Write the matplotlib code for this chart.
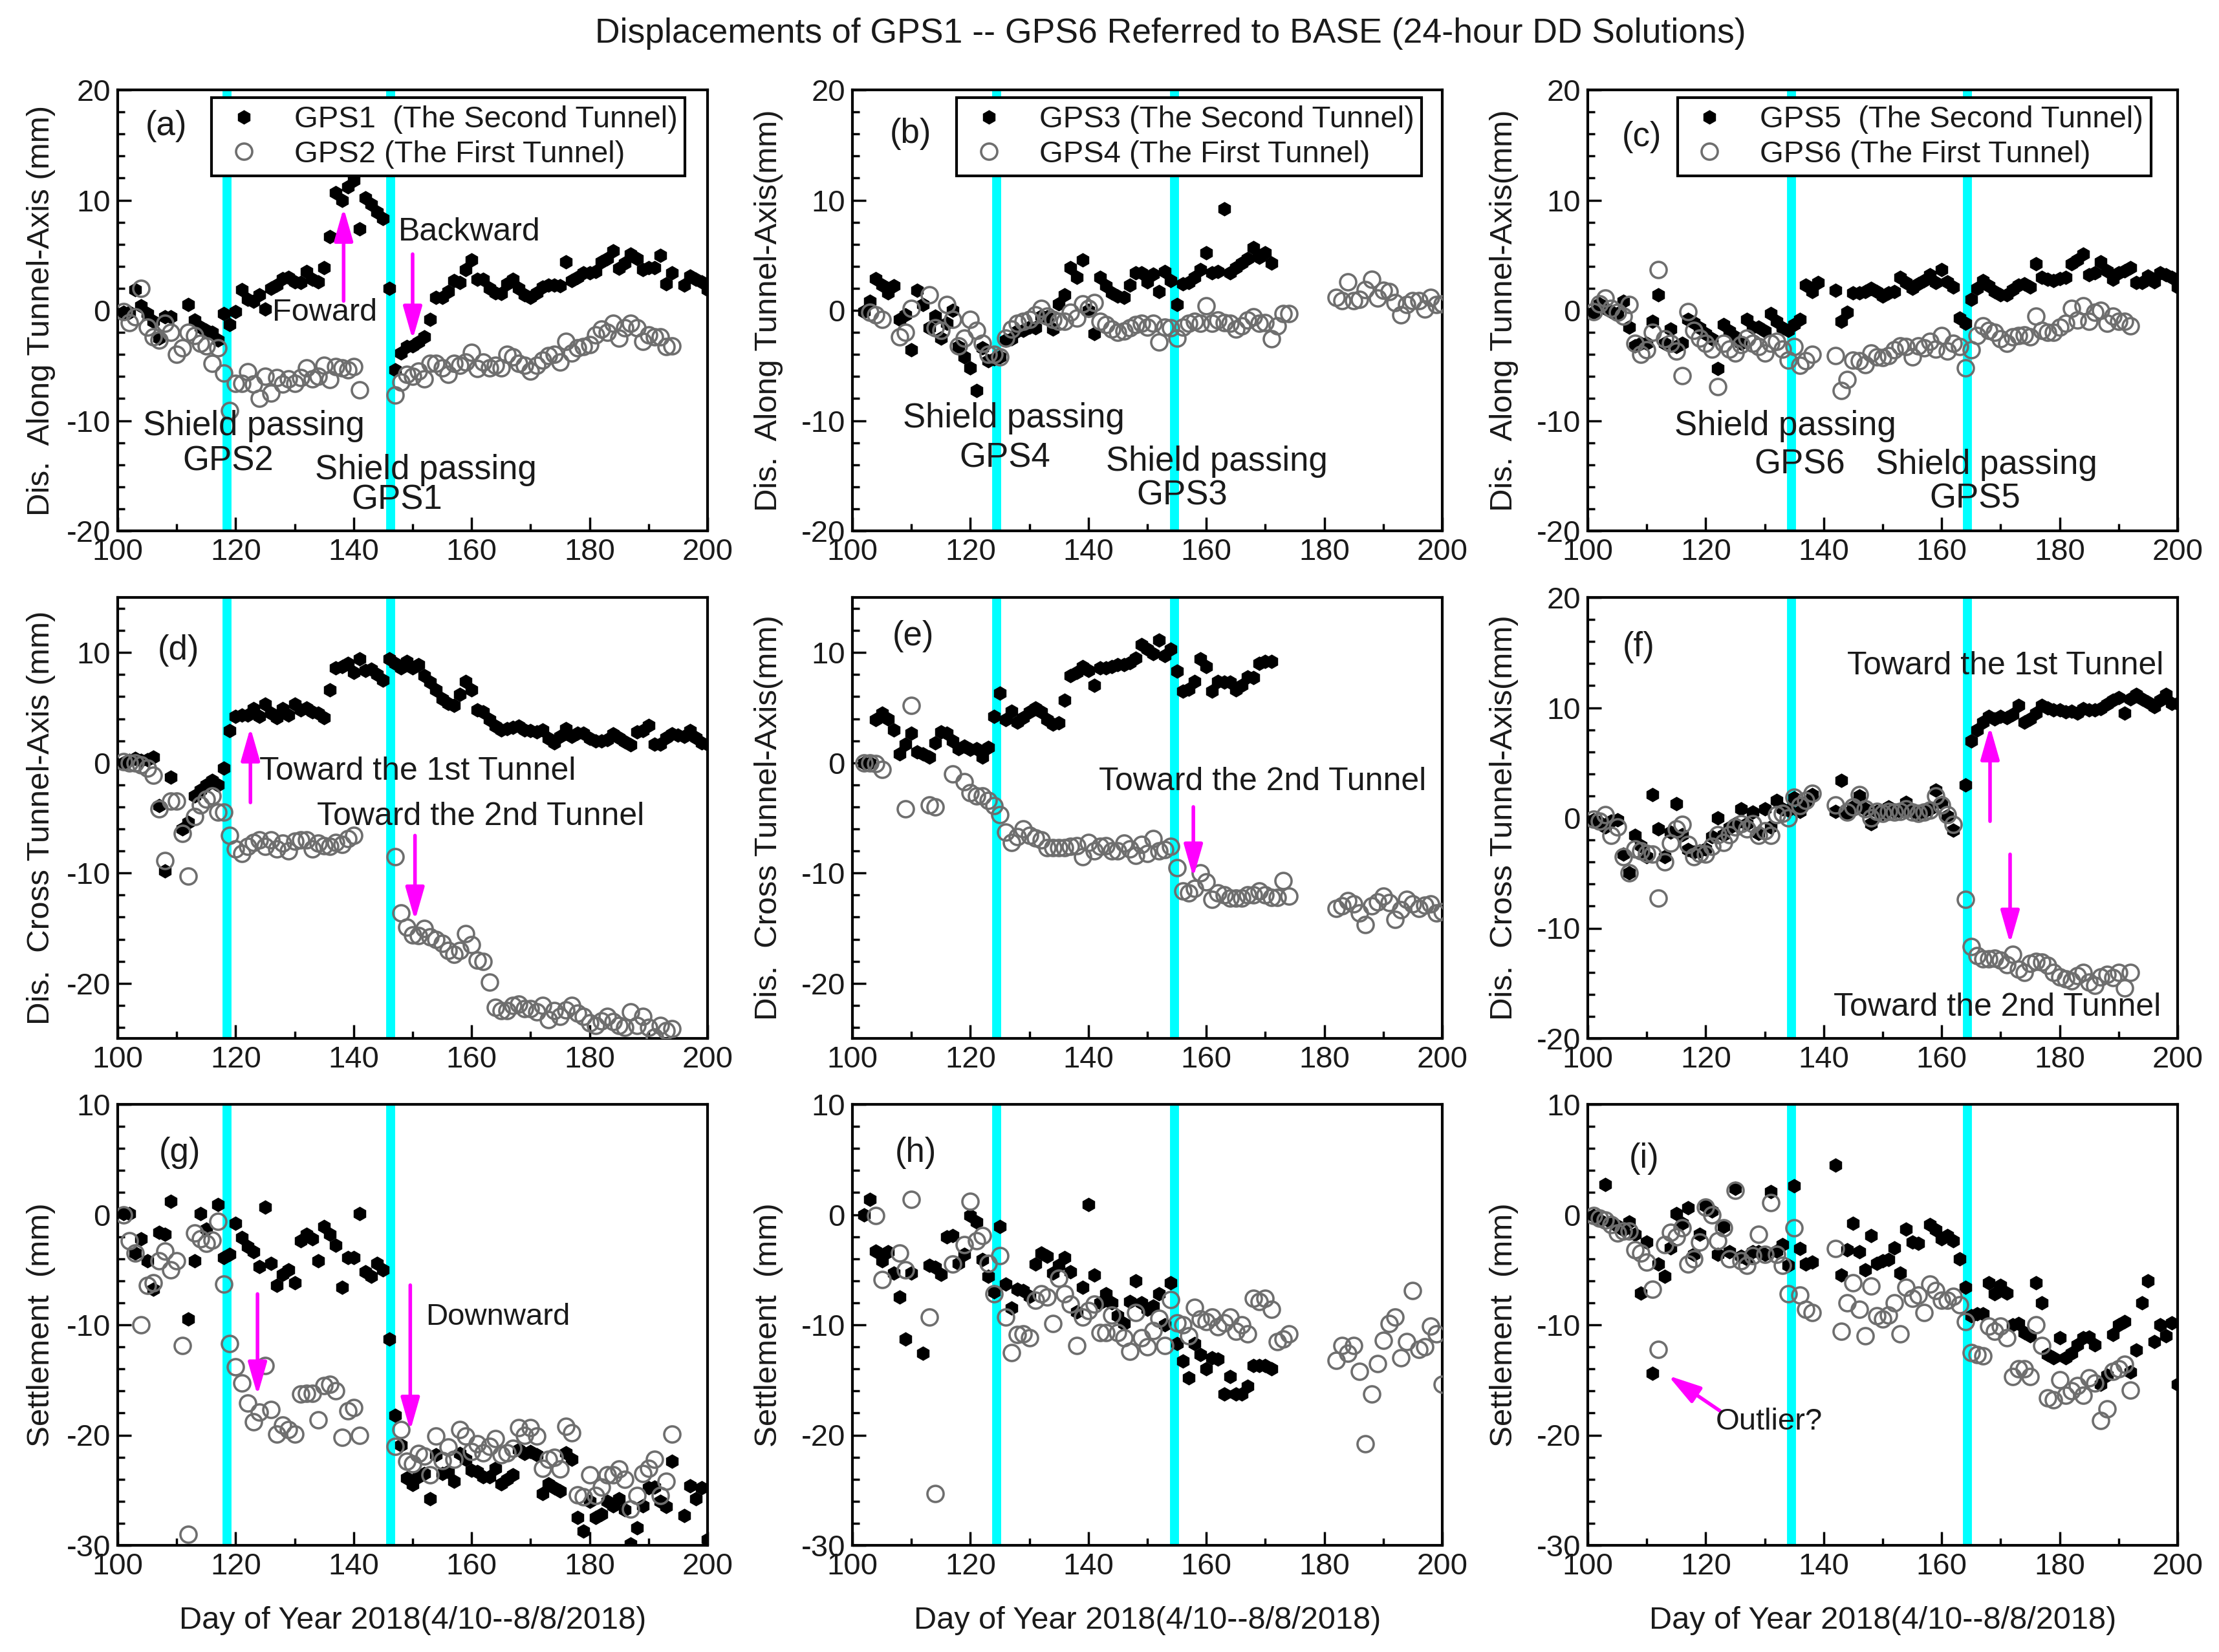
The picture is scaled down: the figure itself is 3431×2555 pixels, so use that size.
import numpy as np
import matplotlib
matplotlib.use('Agg')
import matplotlib.pyplot as plt
from matplotlib.ticker import MultipleLocator

nan = float('nan')
days = list(range(101, 201))

# values per day, first entry is day 101
gps1_along = [-0.2, -0.2, 1.9, 0.4, -0.3, -1.0, -2.5, -0.6, -0.6, nan,
              nan, 0.5, -0.9, -1.5, -1.8, -2.0, -2.7, -0.3, -1.3, -0.1,
              1.9, 1.0, 0.8, 1.4, 0.1, 2.0, 2.3, 2.9, 3.0, 2.6,
              2.5, 3.5, 2.8, 2.6, 3.9, 6.7, 10.7, 10.0, 11.2, 11.8,
              7.4, 10.2, 9.6, 8.9, 8.3, 2.0, -5.4, -3.9, -3.3, -3.2,
              -2.9, -2.4, -0.8, 1.2, 1.2, 1.7, 2.7, 2.5, 3.7, 4.6,
              2.8, 2.8, 2.0, 1.6, 1.5, 2.4, 2.8, 2.0, 1.4, 1.2,
              1.6, 2.1, 2.3, 2.3, 2.2, 4.4, 2.7, 3.0, 3.4, 3.4,
              3.5, 4.4, 4.7, 5.4, 3.8, 4.3, 5.1, 4.7, 3.7, 3.9,
              3.9, 5.0, 2.4, 3.4, nan, 2.3, 3.1, 2.8, 2.6, 1.9]
gps2_along = [-0.1, -1.1, -0.6, 2.0, -1.5, -2.4, -2.7, -1.2, -2.0, -4.0,
              -3.4, -2.0, -2.3, -3.0, -3.2, -4.8, -3.4, -5.7, -9.1, -6.6,
              -6.6, -5.6, -6.7, -8.0, -6.0, -7.5, -6.1, -6.7, -6.2, -6.6,
              -6.1, -5.2, -6.2, -6.0, -5.0, -6.3, -5.1, -5.2, -5.4, -5.1,
              -7.2, nan, nan, nan, nan, nan, -7.7, -6.5, -5.8, -6.0,
              -5.5, -6.2, -4.8, -4.8, -5.2, -5.8, -4.8, -5.0, -4.7, -3.8,
              -5.3, -4.7, -5.2, -5.0, -5.2, -4.0, -4.2, -4.8, -5.0, -5.5,
              -5.0, -4.5, -4.1, -4.0, -4.7, -2.8, -3.9, -3.4, -3.3, -3.1,
              -2.2, -1.7, -2.0, -1.2, -2.5, -1.6, -1.2, -1.6, -2.8, -2.2,
              -2.4, -2.4, -3.3, -3.2]
gps3_along = [nan, -0.1, 0.8, 2.9, 2.3, 1.6, 2.2, -0.8, -0.4, -3.6,
              1.8, 0.5, -1.6, -0.5, -2.5, -1.2, 0.0, -3.3, -4.2, -5.2,
              -7.3, -3.4, -4.6, -4.4, -4.2, -2.7, -2.6, -1.9, -1.8, -1.5,
              -1.6, -0.5, -0.6, -1.7, 0.6, 1.4, 3.9, 3.0, 4.6, 0.0,
              -2.1, 3.0, 2.2, 1.6, 1.3, 1.2, 2.3, 3.4, 3.4, 2.6,
              3.3, 1.7, 3.5, 2.7, 0.5, 2.4, 2.5, 3.0, 3.7, 5.2,
              3.4, 3.5, 9.2, 3.4, 3.9, 4.3, 4.7, 5.7, 4.8, 5.2,
              4.3]
gps4_along = [nan, nan, -0.2, -0.4, -0.8, nan, nan, -2.4, -2.0, 0.2,
              nan, nan, 1.4, -1.6, -1.8, 0.5, -0.8, -3.2, -2.5, -0.8,
              -1.8, -3.0, -4.0, -4.0, -4.2, -2.5, -1.7, -1.2, -1.0, -0.8,
              -0.4, 0.2, -0.5, -0.8, -1.0, -1.0, -0.2, -0.7, 0.6, 0.2,
              0.7, -1.0, -1.3, -1.7, -2.0, -1.9, -1.6, -1.3, -1.2, -1.5,
              -1.2, -2.9, -1.5, -1.6, -2.5, -1.5, -1.2, -1.0, -1.2, 0.4,
              -1.2, -0.9, -1.1, -1.2, -1.7, -1.4, -0.9, -0.6, -1.2, -1.1,
              -2.6, -1.4, -0.3, -0.3, nan, nan, nan, nan, nan, nan,
              nan, 1.2, 0.9, 2.6, 0.9, 1.0, 1.9, 2.8, 1.1, 1.8,
              1.7, 0.7, -0.4, 0.5, 0.9, 0.9, 0.1, 1.2, 0.5, 0.6]
gps5_along = [-0.2, 0.6, 0.2, -0.1, -0.3, 0.8, -1.5, -3.2, -3.0, -3.0,
              -1.0, 1.4, -3.0, -1.7, -3.3, -3.0, -0.8, -1.1, -1.6, -2.1,
              -2.6, -5.3, -1.3, -1.9, -2.4, -3.0, -0.8, -1.5, -1.5, -1.9,
              -0.3, -1.0, -1.6, -1.8, -1.3, -0.8, 2.3, 1.7, 2.5, nan,
              nan, 1.8, -1.0, -0.2, 1.6, 1.6, 1.7, 2.0, 1.7, 1.3,
              1.6, 1.7, 3.0, 2.5, 2.0, 2.4, 2.7, 3.2, 2.5, 3.7,
              2.6, 2.1, -0.7, -1.2, 1.0, 2.0, 2.7, 2.2, 1.7, 1.4,
              1.4, 1.9, 2.3, 2.4, 2.1, 4.2, 3.0, 2.8, 2.7, 2.9,
              3.0, 4.2, 4.6, 5.1, 3.2, 3.4, 4.4, 3.6, 2.8, 3.4,
              3.6, 3.9, 2.5, 2.5, 3.1, 2.6, 3.4, 3.2, 3.0, 2.1]
gps6_along = [-0.1, 0.6, 1.1, 0.2, -0.2, -0.5, 0.5, -3.0, -4.0, -3.6,
              -2.0, 3.7, -2.6, -3.0, -3.7, -5.9, -0.1, -1.8, -2.5, -3.0,
              -3.5, -6.9, -3.0, -3.5, -3.9, -3.1, -2.5, -3.0, -3.3, -3.9,
              -3.0, -2.8, -3.5, -4.5, -3.3, -5.0, -4.6, -4.0, nan, nan,
              nan, -4.1, -7.3, -6.3, -4.5, -4.6, -4.9, -3.9, -4.2, -4.3,
              -4.1, -3.6, -3.2, -3.3, -4.2, -3.2, -3.4, -2.8, -3.5, -2.3,
              -3.7, -3.0, -3.3, -5.2, -3.6, -2.3, -1.4, -1.8, -2.0, -2.6,
              -3.0, -2.4, -2.3, -2.2, -2.4, -0.5, -1.8, -2.0, -2.0, -1.5,
              -1.2, 0.2, -0.9, 0.4, -1.0, -0.2, 0.0, -1.2, -0.5, -1.0,
              -1.0, -1.4]

gps1_cross = [0.0, 0.2, 0.4, 0.2, 0.3, 0.5, -3.9, -9.8, -1.3, nan,
              -6.0, -5.4, -3.0, -2.5, -2.0, -1.6, -2.0, -0.5, 2.9, 4.2,
              4.3, 4.3, 4.9, 4.2, 5.3, 4.5, 4.1, 4.9, 4.3, 5.3,
              4.8, 5.0, 4.6, 4.5, 4.1, 6.6, 8.6, 8.7, 9.0, 8.2,
              9.4, 8.4, 8.5, 8.0, 7.5, 9.4, 9.0, 8.6, 9.2, 8.6,
              8.9, 7.9, 7.3, 6.6, 5.8, 5.4, 5.2, 6.2, 7.4, 6.6,
              4.8, 4.6, 3.9, 3.3, 3.0, 3.1, 3.2, 3.3, 3.0, 2.9,
              2.8, 3.0, 2.2, 1.8, 2.4, 3.1, 2.4, 2.7, 2.7, 2.2,
              2.0, 2.0, 2.1, 2.6, 2.3, 1.9, 1.6, 2.8, 2.9, 3.4,
              1.7, 1.7, 2.3, 2.6, 2.5, 2.4, 2.9, 2.3, 1.8, 1.7]
gps2_cross = [0.1, 0.0, 0.0, -0.2, -0.5, -1.1, -4.2, -8.9, -3.5, -3.5,
              -6.4, -10.3, -4.9, -3.8, -3.3, -3.0, -4.5, -4.5, -6.6, -7.8,
              -8.2, -7.6, -7.2, -7.0, -7.6, -7.0, -7.8, -7.3, -8.0, -7.1,
              -7.0, -7.0, -7.8, -7.3, -7.5, -7.6, -7.2, -7.4, -6.9, -6.6,
              nan, nan, nan, nan, nan, nan, -8.5, -13.6, -14.9, -15.6,
              -15.7, -15.0, -15.8, -16.0, -16.4, -17.0, -17.4, -17.0, -15.5, -16.5,
              -17.9, -18.0, -19.9, -22.2, -22.5, -22.5, -22.0, -21.9, -22.3, -22.3,
              -22.6, -22.0, -23.3, -22.5, -23.0, -22.4, -22.0, -22.7, -23.0, -23.6,
              -23.8, -23.4, -23.0, -23.5, -23.8, -24.0, -22.6, -23.8, -23.0, -24.0,
              -24.9, -23.8, -24.3, -24.1]
gps3_cross = [nan, 0.0, 0.0, 3.9, 4.5, 4.0, 3.0, 0.8, 1.7, 2.7,
              1.0, 0.8, 0.5, 1.8, 2.8, 2.7, 2.0, 1.3, 1.5, 1.2,
              1.3, 0.5, 1.4, 4.2, 6.3, 3.9, 4.7, 3.7, 4.1, 4.6,
              5.0, 4.6, 3.9, 3.5, 3.6, 5.7, 7.9, 8.2, 8.7, 8.4,
              7.0, 8.6, 8.6, 8.7, 8.9, 8.9, 9.1, 9.5, 10.7, 10.3,
              9.9, 11.1, 9.7, 10.3, 8.3, 6.5, 6.7, 7.4, 9.4, 8.7,
              6.5, 7.4, 7.3, 7.3, 6.6, 7.0, 7.8, 7.7, 9.0, 9.2,
              9.2]
gps4_cross = [nan, 0.0, 0.0, -0.1, -0.6, nan, nan, nan, -4.2, 5.2,
              nan, nan, -3.8, -4.0, nan, nan, -1.0, nan, -1.7, -2.7,
              -3.0, -3.0, -3.4, -3.9, -4.7, -6.3, -7.2, -6.7, -6.0, -6.6,
              -6.8, -7.0, -7.7, -7.7, -7.7, -7.7, -7.6, -7.5, -8.5, -7.2,
              -8.0, -7.6, -7.5, -8.0, -8.0, -7.3, -7.8, -8.4, -7.4, -8.2,
              -6.9, -8.0, -7.9, -7.6, -9.5, -11.6, -11.8, -11.4, -10.0, -10.8,
              -12.4, -11.8, -12.0, -12.3, -12.3, -12.3, -12.0, -12.0, -11.6, -12.0,
              -12.2, -12.2, -10.7, -12.1, nan, nan, nan, nan, nan, nan,
              nan, -13.2, -13.0, -12.5, -12.8, -13.6, -14.7, -13.0, -12.6, -12.1,
              -12.7, -14.2, -13.3, -12.4, -12.8, -13.2, -12.9, -12.8, -13.6, -13.5]
gps5_cross = [-0.2, -0.4, -0.8, -0.3, -0.2, -3.3, -5.0, -1.6, -2.5, -3.5,
              2.1, -1.0, -3.5, -1.3, 1.3, -1.5, -2.9, -3.1, -3.0, -2.8,
              -1.7, 0.0, -1.5, -0.9, -0.5, 0.8, -0.5, 0.5, -1.4, 0.8,
              -0.8, 1.6, 0.8, 0.7, 1.8, 0.6, 1.4, 2.1, nan, nan,
              nan, 0.6, 3.4, 0.4, 1.0, 2.0, 0.8, -0.5, 0.6, 0.4,
              1.0, 0.6, 0.6, 1.4, 0.6, 0.4, 0.6, 0.8, 2.5, 1.4,
              0.2, -1.1, nan, 3.0, 7.0, 8.0, 8.7, 9.2, 9.0, 9.2,
              9.1, 9.4, 10.2, 8.7, 9.0, 9.5, 10.2, 10.0, 9.8, 9.8,
              9.6, 9.7, 9.5, 9.9, 9.8, 9.8, 9.9, 10.3, 10.7, 10.9,
              9.5, 10.8, 11.2, 10.8, 10.5, 10.1, 10.7, 11.2, 10.4, 10.4]
gps6_cross = [-0.1, -0.3, 0.3, -1.6, -0.8, -3.5, -5.0, -2.8, -3.0, -3.2,
              -3.3, -7.3, -4.0, -2.3, -1.0, -0.6, -2.4, -3.5, -3.2, -3.3,
              -2.6, -1.5, -2.2, -1.5, -0.8, -0.5, -1.0, -0.5, -1.6, -1.2,
              -1.6, 0.3, 0.4, 0.0, 1.9, 1.1, 1.6, 2.2, nan, nan,
              nan, 1.2, nan, 0.5, 1.0, 2.1, 0.8, 0.0, 0.6, 0.4,
              0.6, 0.5, 0.6, 0.8, 0.5, 0.4, 0.5, 0.7, 2.0, 1.2,
              0.3, -0.6, nan, -7.4, -11.7, -12.5, -12.8, -12.8, -12.7, -12.9,
              -13.3, -12.4, -13.7, -14.0, -13.2, -13.0, -13.1, -13.4, -14.0, -14.4,
              -14.6, -14.8, -14.3, -14.0, -14.9, -15.2, -14.4, -14.2, -14.5, -14.0,
              -15.4, -14.0]

gps1_settle = [0.1, 0.1, -3.5, -2.2, -4.2, -6.8, -1.6, -1.8, 1.2, nan,
               nan, -9.5, -4.2, 0.1, -1.3, nan, 0.9, -3.9, -3.6, -0.8,
               -2.1, -2.9, -3.4, -4.7, 0.7, -4.4, -6.4, -5.4, -5.0, -6.2,
               -2.4, -1.8, -2.2, -4.2, -1.1, -1.8, -2.8, -6.6, -3.9, -3.9,
               0.1, -5.2, -5.6, -4.4, -5.0, -11.3, -18.2, -20.9, -23.9, -24.5,
               -23.8, -23.5, -25.8, -21.8, -23.5, -23.3, -24.2, -21.7, -22.2, -23.2,
               -23.3, -23.8, -23.8, -23.0, -24.4, -24.0, -23.6, -21.3, -21.7, -21.5,
               -21.8, -25.3, -24.4, -24.8, -25.1, -21.6, -22.2, -27.5, -28.7, -26.0,
               -27.5, -27.2, -26.0, -26.4, -25.8, -26.8, -29.9, -28.4, -26.4, -24.8,
               -24.7, -26.0, -26.5, -22.4, nan, -27.3, -24.6, -25.8, -24.8, -29.5]
gps2_settle = [0.0, -2.4, -3.5, -10.0, -6.4, -6.2, -4.2, -3.3, -5.0, -4.2,
               -11.9, -29.0, -1.7, -2.2, -2.6, -2.3, -0.6, -6.3, -11.7, -13.8,
               -15.3, -17.1, -18.8, -17.9, -13.7, -17.7, -19.9, -19.1, -19.5, -19.9,
               -16.3, -16.2, -16.2, -18.6, -15.5, -15.4, -16.0, -20.2, -17.8, -17.5,
               -20.0, nan, nan, nan, nan, nan, -21.0, -19.5, -22.4, -22.6,
               -21.7, -21.9, -23.6, -20.1, -22.3, -21.1, -22.2, -19.5, -20.1, -21.5,
               -20.8, -21.6, -21.0, -20.3, -21.8, -21.6, -21.2, -19.3, -20.0, -19.3,
               -20.1, -23.0, -22.2, -22.0, -23.1, -19.2, -19.8, -25.4, -25.6, -23.6,
               -25.5, -24.7, -23.6, -23.6, -23.1, -24.0, -26.7, -25.5, -23.5, -23.0,
               -22.2, -25.5, -24.2, -19.9]
gps3_settle = [nan, 0.0, 1.4, -3.3, -4.2, -3.4, -5.3, -7.5, -11.3, -5.3,
               nan, -12.6, -4.6, -4.8, -5.4, -2.0, -1.9, -4.4, -3.6, -0.1,
               -0.7, -4.1, -5.6, -7.0, -1.1, -6.3, -8.5, -6.8, -6.9, -7.4,
               -4.5, -3.5, -3.8, -5.3, -4.6, -3.9, -5.2, -8.8, -6.6, 0.9,
               -5.5, -8.0, -7.2, -8.0, -9.2, -9.9, -7.9, -6.0, -8.0, -8.6,
               -8.3, -7.2, -10.0, -6.2, -11.7, -13.3, -14.8, -11.7, -12.7, -14.0,
               -13.0, -13.1, -16.3, -14.7, -16.3, -16.3, -15.6, -13.7, -13.7, -13.7,
               -14.0]
gps4_settle = [nan, nan, nan, -0.1, -5.9, nan, nan, -3.5, -5.0, 1.4,
               nan, nan, -9.3, -25.3, nan, nan, -4.5, nan, -2.7, 1.2,
               -2.4, -1.9, -4.4, -7.2, -3.7, -9.3, -12.5, -10.9, -10.8, -11.2,
               -7.8, -7.2, -7.5, -9.9, -5.8, -7.2, -8.1, -11.9, -9.3, -8.7,
               -8.1, -10.7, -10.7, -9.1, -10.7, -11.2, -12.4, -8.9, -11.2, -12.0,
               -10.5, -9.4, -11.9, -7.7, -9.8, -10.0, -11.0, -8.4, -9.5, -9.7,
               -9.3, -10.2, -9.8, -9.3, -10.6, -10.0, -10.8, -7.6, -7.9, -7.6,
               -8.6, -11.5, -11.3, -10.8, nan, nan, nan, nan, nan, nan,
               nan, -13.2, -11.9, -12.6, -11.9, -14.2, -20.8, -16.3, -13.5, -11.4,
               -9.9, -9.3, -13.0, -11.5, -6.9, -12.2, -12.0, -10.1, -10.8, -15.4]
gps5_settle = [-0.1, -0.5, 2.7, -0.7, -1.0, -1.4, -0.7, -1.8, -7.1, -2.5,
               -14.4, -4.5, -5.6, -3.0, 0.1, -0.8, 0.6, -3.6, -1.8, 0.8,
               0.3, -3.6, -1.1, -3.4, 2.4, -3.8, -4.0, -3.4, -3.4, -3.6,
               2.1, -3.3, -2.7, -4.6, 2.6, -3.1, -4.5, -4.3, nan, nan,
               nan, 4.5, -5.5, -3.2, -0.8, -3.4, -5.0, -1.9, -4.4, -4.2,
               -4.1, -3.0, -5.3, -1.3, -2.5, -2.6, nan, -0.9, -1.4, -2.2,
               -1.9, -2.4, -4.0, -6.6, -9.2, -9.0, -9.0, -6.2, -7.2, -6.4,
               -7.1, -10.0, -9.9, -10.7, -11.0, -6.2, -8.0, -12.7, -13.0, -11.2,
               -13.0, -12.6, -11.8, -11.2, -11.1, -11.8, -15.4, -14.6, -10.9, -10.0,
               -9.7, -14.3, -12.3, -8.0, -6.0, -11.5, -10.0, -11.0, -9.8, -15.4]
gps6_settle = [-0.1, -0.3, -0.5, -0.9, -1.7, -1.5, -1.5, -3.2, -3.5, -4.3,
               -6.8, -12.2, -2.7, -1.6, -2.0, -1.2, -4.5, -4.0, -2.5, 0.7,
               0.0, -2.4, -1.2, -4.0, 2.2, -4.2, -4.6, -3.7, -1.8, -3.6,
               1.1, -3.6, -4.6, -7.2, -1.2, -7.3, -8.6, -8.9, nan, nan,
               nan, -3.1, -10.6, -8.0, -6.2, -8.6, -11.0, -6.5, -9.2, -9.5,
               -9.1, -8.0, -10.8, -6.6, -7.6, -7.3, -8.9, -6.3, -6.9, -7.8,
               -7.8, -7.4, -8.2, -9.7, -12.5, -12.7, -12.8, -10.1, -10.6, -10.1,
               -11.2, -14.7, -14.0, -14.0, -14.7, -10.0, -11.9, -16.6, -16.8, -15.0,
               -16.4, -16.0, -15.5, -16.4, -14.8, -15.3, -18.7, -17.6, -14.2, -14.0,
               -13.6, -15.9]

along_pairs = [(gps1_along, gps2_along), (gps3_along, gps4_along), (gps5_along, gps6_along)]
cross_pairs = [(gps1_cross, gps2_cross), (gps3_cross, gps4_cross), (gps5_cross, gps6_cross)]
settle_pairs = [(gps1_settle, gps2_settle), (gps3_settle, gps4_settle), (gps5_settle, gps6_settle)]

shield_days = [(118.5, 146.3), (124.5, 154.6), (134.5, 164.4)]
panel_letters = ['(a)', '(b)', '(c)', '(d)', '(e)', '(f)', '(g)', '(h)', '(i)']
letter_pos = [(108.2, 16.7), (109.9, 16.0), (109.1, 15.7),
              (110.3, 10.2), (110.3, 11.5), (108.6, 15.5),
              (110.5, 5.6), (110.7, 5.6), (109.5, 5.1)]
legend_names = [('GPS1  (The Second Tunnel)', 'GPS2 (The First Tunnel)'),
                ('GPS3 (The Second Tunnel)', 'GPS4 (The First Tunnel)'),
                ('GPS5  (The Second Tunnel)', 'GPS6 (The First Tunnel)')]
legend_right = [0.962, 0.965, 0.955]

W, H = 3431, 2555
FS = 34
NOTE_FS = 38
TXT = '#1a1a1a'
plt.rcParams['font.family'] = ['Liberation Sans', 'DejaVu Sans']
plt.rcParams['axes.unicode_minus'] = False

fig = plt.figure(figsize=(W / 100, H / 100), dpi=100)
col_left = [182, 1318, 2455]
row_top = [139, 924, 1708]
ax_w, ax_h = 912, 682


def make_axes(r, c, ylim):
    ax = fig.add_axes([col_left[c] / W, 1 - (row_top[r] + ax_h) / H, ax_w / W, ax_h / H])
    ax.set_xlim(100, 200)
    ax.set_ylim(*ylim)
    ax.xaxis.set_major_locator(MultipleLocator(20))
    ax.xaxis.set_minor_locator(MultipleLocator(10))
    ax.yaxis.set_major_locator(MultipleLocator(10))
    ax.yaxis.set_minor_locator(MultipleLocator(2))
    ax.tick_params(which='major', direction='in', length=15, width=2.5, labelsize=FS,
                   labelcolor=TXT, pad=8)
    ax.tick_params(which='minor', direction='in', length=8, width=2.5)
    for s in ax.spines.values():
        s.set_linewidth(3)
    return ax


def draw_series(ax, pair, cyan):
    for d in cyan:
        ax.axvline(d, color='#00ffff', linewidth=10, zorder=1)
    a, b = pair
    h1, = ax.plot(days[:len(a)], a, linestyle='none', marker='h', ms=15, color='black', zorder=3)
    h2, = ax.plot(days[:len(b)], b, linestyle='none', marker='o', ms=18, mfc='none',
                  mec='#6e6e6e', mew=2.6, zorder=4)
    return h1, h2


def arrow(ax, start, end):
    ax.annotate('', xy=end, xytext=start, zorder=6,
                arrowprops=dict(arrowstyle='-|>,head_length=1.4,head_width=0.4', color='magenta',
                                lw=4, mutation_scale=22, shrinkA=0, shrinkB=0))


def label(ax, x, y, s, fs=NOTE_FS):
    ax.text(x, y, s, fontsize=fs, color=TXT, ha='center', va='center', zorder=7)


axes = []
ylims = [(-25, 15), (-25, 15), (-20, 20)]
for c in range(3):
    # top row
    ax = make_axes(0, c, (-20, 20))
    h1, h2 = draw_series(ax, along_pairs[c], shield_days[c])
    leg = ax.legend([h1, h2], legend_names[c], loc='upper right',
                    bbox_to_anchor=(legend_right[c], 0.982),
                    borderaxespad=0, fontsize=34, frameon=True, fancybox=False, framealpha=1,
                    edgecolor='black', labelcolor=TXT, handletextpad=0.85, labelspacing=0.2,
                    borderpad=0.25, handlelength=1.6)
    leg.get_frame().set_linewidth(3)
    leg.set_zorder(5)
    axes.append(ax)

for c in range(3):
    ax = make_axes(1, c, ylims[c])
    draw_series(ax, cross_pairs[c], shield_days[c])
    axes.append(ax)

for c in range(3):
    ax = make_axes(2, c, (-30, 10))
    draw_series(ax, settle_pairs[c], shield_days[c])
    ax.set_xlabel('Day of Year 2018(4/10--8/8/2018)', fontsize=35, color=TXT, labelpad=28)
    axes.append(ax)

for ax, s, (x, y) in zip(axes, panel_letters, letter_pos):
    label(ax, x, y, s)

# y labels
label_x = [-0.105, -0.117, -0.117]
ylabels = [['Dis.  Along Tunnel-Axis (mm)', 'Dis.  Along Tunnel-Axis(mm)', 'Dis.  Along Tunnel-Axis(mm)'],
           ['Dis.  Cross Tunnel-Axis (mm)', 'Dis.  Cross Tunnel-Axis(mm)', 'Dis.  Cross Tunnel-Axis(mm)'],
           ['Settlement  (mm)', 'Settlement  (mm)', 'Settlement  (mm)']]
for r in range(3):
    for c in range(3):
        ax = axes[r * 3 + c]
        ax.set_ylabel(ylabels[r][c], fontsize=35.5, color=TXT)
        ax.yaxis.set_label_coords(label_x[c], 0.5)

# panel notes
label(axes[0], 135.1, -0.2, 'Foward', 35)
label(axes[0], 159.6, 7.1, 'Backward', 36)
label(axes[0], 123.1, -10.5, 'Shield passing')
label(axes[0], 118.7, -13.7, 'GPS2')
label(axes[0], 152.2, -14.5, 'Shield passing')
label(axes[0], 147.3, -17.2, 'GPS1')
arrow(axes[0], (138.3, 0.85), (138.3, 9.3))
arrow(axes[0], (150, 5.1), (150, -2.65))

label(axes[1], 127.3, -9.8, 'Shield passing')
label(axes[1], 125.8, -13.4, 'GPS4')
label(axes[1], 161.8, -13.7, 'Shield passing')
label(axes[1], 155.9, -16.8, 'GPS3')

label(axes[2], 133.5, -10.5, 'Shield passing')
label(axes[2], 135.9, -14, 'GPS6')
label(axes[2], 167.6, -14, 'Shield passing')
label(axes[2], 165.7, -17.1, 'GPS5')

label(axes[3], 150.8, -0.8, 'Toward the 1st Tunnel', 36)
label(axes[3], 161.5, -4.9, 'Toward the 2nd Tunnel', 36)
arrow(axes[3], (122.5, -3.6), (122.5, 3.2))
arrow(axes[3], (150.4, -6.6), (150.4, -14.3))

label(axes[4], 169.5, -1.7, 'Toward the 2nd Tunnel', 36)
arrow(axes[4], (157.8, -4), (157.8, -10.4))

label(axes[5], 170.8, 13.8, 'Toward the 1st Tunnel', 36)
label(axes[5], 169.4, -17.2, 'Toward the 2nd Tunnel', 36)
arrow(axes[5], (168.2, -0.3), (168.2, 8.3))
arrow(axes[5], (171.6, -3.3), (171.6, -11.4))

label(axes[6], 164.5, -9.3, 'Downward', 34)
arrow(axes[6], (123.7, -7.2), (123.7, -16.4))
arrow(axes[6], (149.6, -6.4), (149.6, -19.6))

label(axes[8], 130.7, -18.8, 'Outlier?', 34)
arrow(axes[8], (122.4, -17.8), (113.6, -14.6))

fig.text(1810 / W, 1 - 52 / H, 'Displacements of GPS1 -- GPS6 Referred to BASE (24-hour DD Solutions)',
         fontsize=38.5, color=TXT, ha='center', va='center')

fig.savefig('out.png', dpi=100)
